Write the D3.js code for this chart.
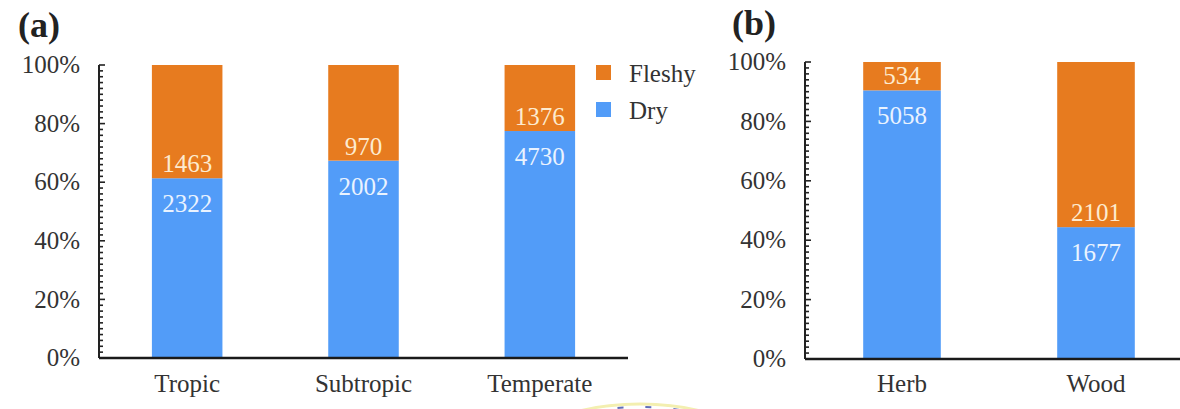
<!DOCTYPE html>
<html>
<head>
<meta charset="utf-8">
<script src="https://cdn.jsdelivr.net/npm/d3@7"></script>
<style>
  body { margin: 0; background: #fff; }
  text { font-family: "Liberation Serif", "DejaVu Serif", serif; }
</style>
</head>
<body>
<svg id="chart" width="1180" height="409"></svg>
<script>
// fruit type counts
var regionCats = ["Tropic", "Subtropic", "Temperate"];
var regionDry = [2322, 2002, 4730];
var regionFleshy = [1463, 970, 1376];

var habitCats = ["Herb", "Wood"];
var habitDry = [5058, 1677];
var habitFleshy = [534, 2101];

var seriesNames = ["Dry", "Fleshy"];
var legendOrder = ["Fleshy", "Dry"];
var yTickValues = [0, 0.2, 0.4, 0.6, 0.8, 1];

var colors = { Dry: "#529cf8", Fleshy: "#e77b1f" };
var labelColors = { Dry: "#eaf3ff", Fleshy: "#fdebd0" };
var serif = "'Liberation Serif', 'DejaVu Serif', serif";

var svg = d3.select("#chart");

function drawPanel(opt) {
    var rows = opt.cats.map(function (c, i) {
        return { cat: c, Dry: opt.dry[i], Fleshy: opt.fleshy[i] };
    });
    var stacked = d3.stack().keys(seriesNames).offset(d3.stackOffsetExpand)(rows);

    var x = d3.scaleBand()
        .domain(opt.cats)
        .range([opt.left, opt.right])
        .paddingInner(0.6)
        .paddingOuter(0.3);

    var y = d3.scaleLinear().domain([0, 1]).range([opt.bottom, opt.top]);

    var g = svg.append("g").attr("font-family", serif);

    // bars
    g.selectAll("g.layer")
        .data(stacked)
        .join("g")
        .attr("class", "layer")
        .attr("fill", function (d) { return colors[d.key]; })
        .selectAll("rect")
        .data(function (d) { return d; })
        .join("rect")
        .attr("x", function (d) { return x(d.data.cat); })
        .attr("width", x.bandwidth())
        .attr("y", function (d) { return y(d[1]); })
        .attr("height", function (d) { return y(d[0]) - y(d[1]); });

    // value labels, both sit around the dry/fleshy boundary
    stacked.forEach(function (layer) {
        g.selectAll(null)
            .data(layer)
            .join("text")
            .attr("x", function (d) { return x(d.data.cat) + x.bandwidth() / 2; })
            .attr("y", function (d) {
                return layer.key == "Dry" ? y(d[1]) + 34 : y(d[0]) - 6;
            })
            .attr("text-anchor", "middle")
            .attr("font-family", serif)
            .attr("font-size", 25)
            .attr("fill", labelColors[layer.key])
            .text(function (d) { return d.data[layer.key]; });
    });

    // y axis with minor ticks every 2%
    var minor = d3.range(0, 101, 2).map(function (v) { return v / 100; });
    g.selectAll("line.minor")
        .data(minor)
        .join("line")
        .attr("x1", opt.left)
        .attr("x2", function (d) { return opt.left + (Math.round(d * 100) % 20 == 0 ? 6 : 4); })
        .attr("y1", function (d) { return y(d); })
        .attr("y2", function (d) { return y(d); })
        .attr("stroke", "#222")
        .attr("stroke-width", 1.6);

    g.append("line")
        .attr("x1", opt.left).attr("x2", opt.left)
        .attr("y1", y(1)).attr("y2", opt.bottom)
        .attr("stroke", "#222").attr("stroke-width", 2);

    g.selectAll("text.ytick")
        .data(yTickValues)
        .join("text")
        .attr("x", opt.left - 19)
        .attr("y", function (d) { return y(d); })
        .attr("dy", "0.33em")
        .attr("text-anchor", "end")
        .attr("font-family", serif)
        .attr("font-size", 25)
        .attr("fill", "#333")
        .text(d3.format(".0%"));

    // x axis line
    g.append("line")
        .attr("x1", opt.left).attr("x2", opt.right)
        .attr("y1", opt.bottom).attr("y2", opt.bottom)
        .attr("stroke", "#1a1a1a").attr("stroke-width", 2.6);

    g.selectAll("text.xtick")
        .data(opt.cats)
        .join("text")
        .attr("x", function (d) { return x(d) + x.bandwidth() / 2; })
        .attr("y", 392)
        .attr("text-anchor", "middle")
        .attr("font-family", serif)
        .attr("font-size", 25)
        .attr("fill", "#333")
        .text(function (d) { return d; });

    // panel letter
    g.append("text")
        .attr("x", opt.tagX)
        .attr("y", opt.tagY)
        .attr("font-family", serif)
        .attr("font-size", 36)
        .attr("font-weight", "bold")
        .attr("fill", "#222")
        .text(opt.tag);
}

drawPanel({
    cats: regionCats, dry: regionDry, fleshy: regionFleshy,
    left: 99, right: 628, top: 65, bottom: 358,
    tag: "(a)", tagX: 18, tagY: 37
});

drawPanel({
    cats: habitCats, dry: habitDry, fleshy: habitFleshy,
    left: 805, right: 1193, top: 62, bottom: 359,
    tag: "(b)", tagX: 732, tagY: 35
});

// legend
var legend = svg.append("g").attr("transform", "translate(596,65)");
legend.selectAll("g")
    .data(legendOrder)
    .join("g")
    .attr("transform", function (d, i) { return "translate(0," + (i * 37) + ")"; })
    .each(function (d) {
        var item = d3.select(this);
        item.append("rect")
            .attr("width", 15).attr("height", 15)
            .attr("fill", colors[d]);
        item.append("text")
            .attr("x", 33).attr("y", 17)
            .attr("font-family", serif)
            .attr("font-size", 25)
            .attr("fill", "#333")
            .text(d);
    });

// faint curve peeking in at the bottom edge (from the figure below)
var arc = svg.append("g").attr("transform", "translate(640,452)");
arc.append("ellipse")
    .attr("rx", 115).attr("ry", 48)
    .attr("fill", "none")
    .attr("stroke", "#f3efb0")
    .attr("stroke-width", 3);
arc.append("ellipse")
    .attr("rx", 112).attr("ry", 45)
    .attr("fill", "none")
    .attr("stroke", "#3a4aa8")
    .attr("stroke-width", 2)
    .attr("stroke-dasharray", "6 22")
    .attr("opacity", 0.8);
</script>
</body>
</html>
